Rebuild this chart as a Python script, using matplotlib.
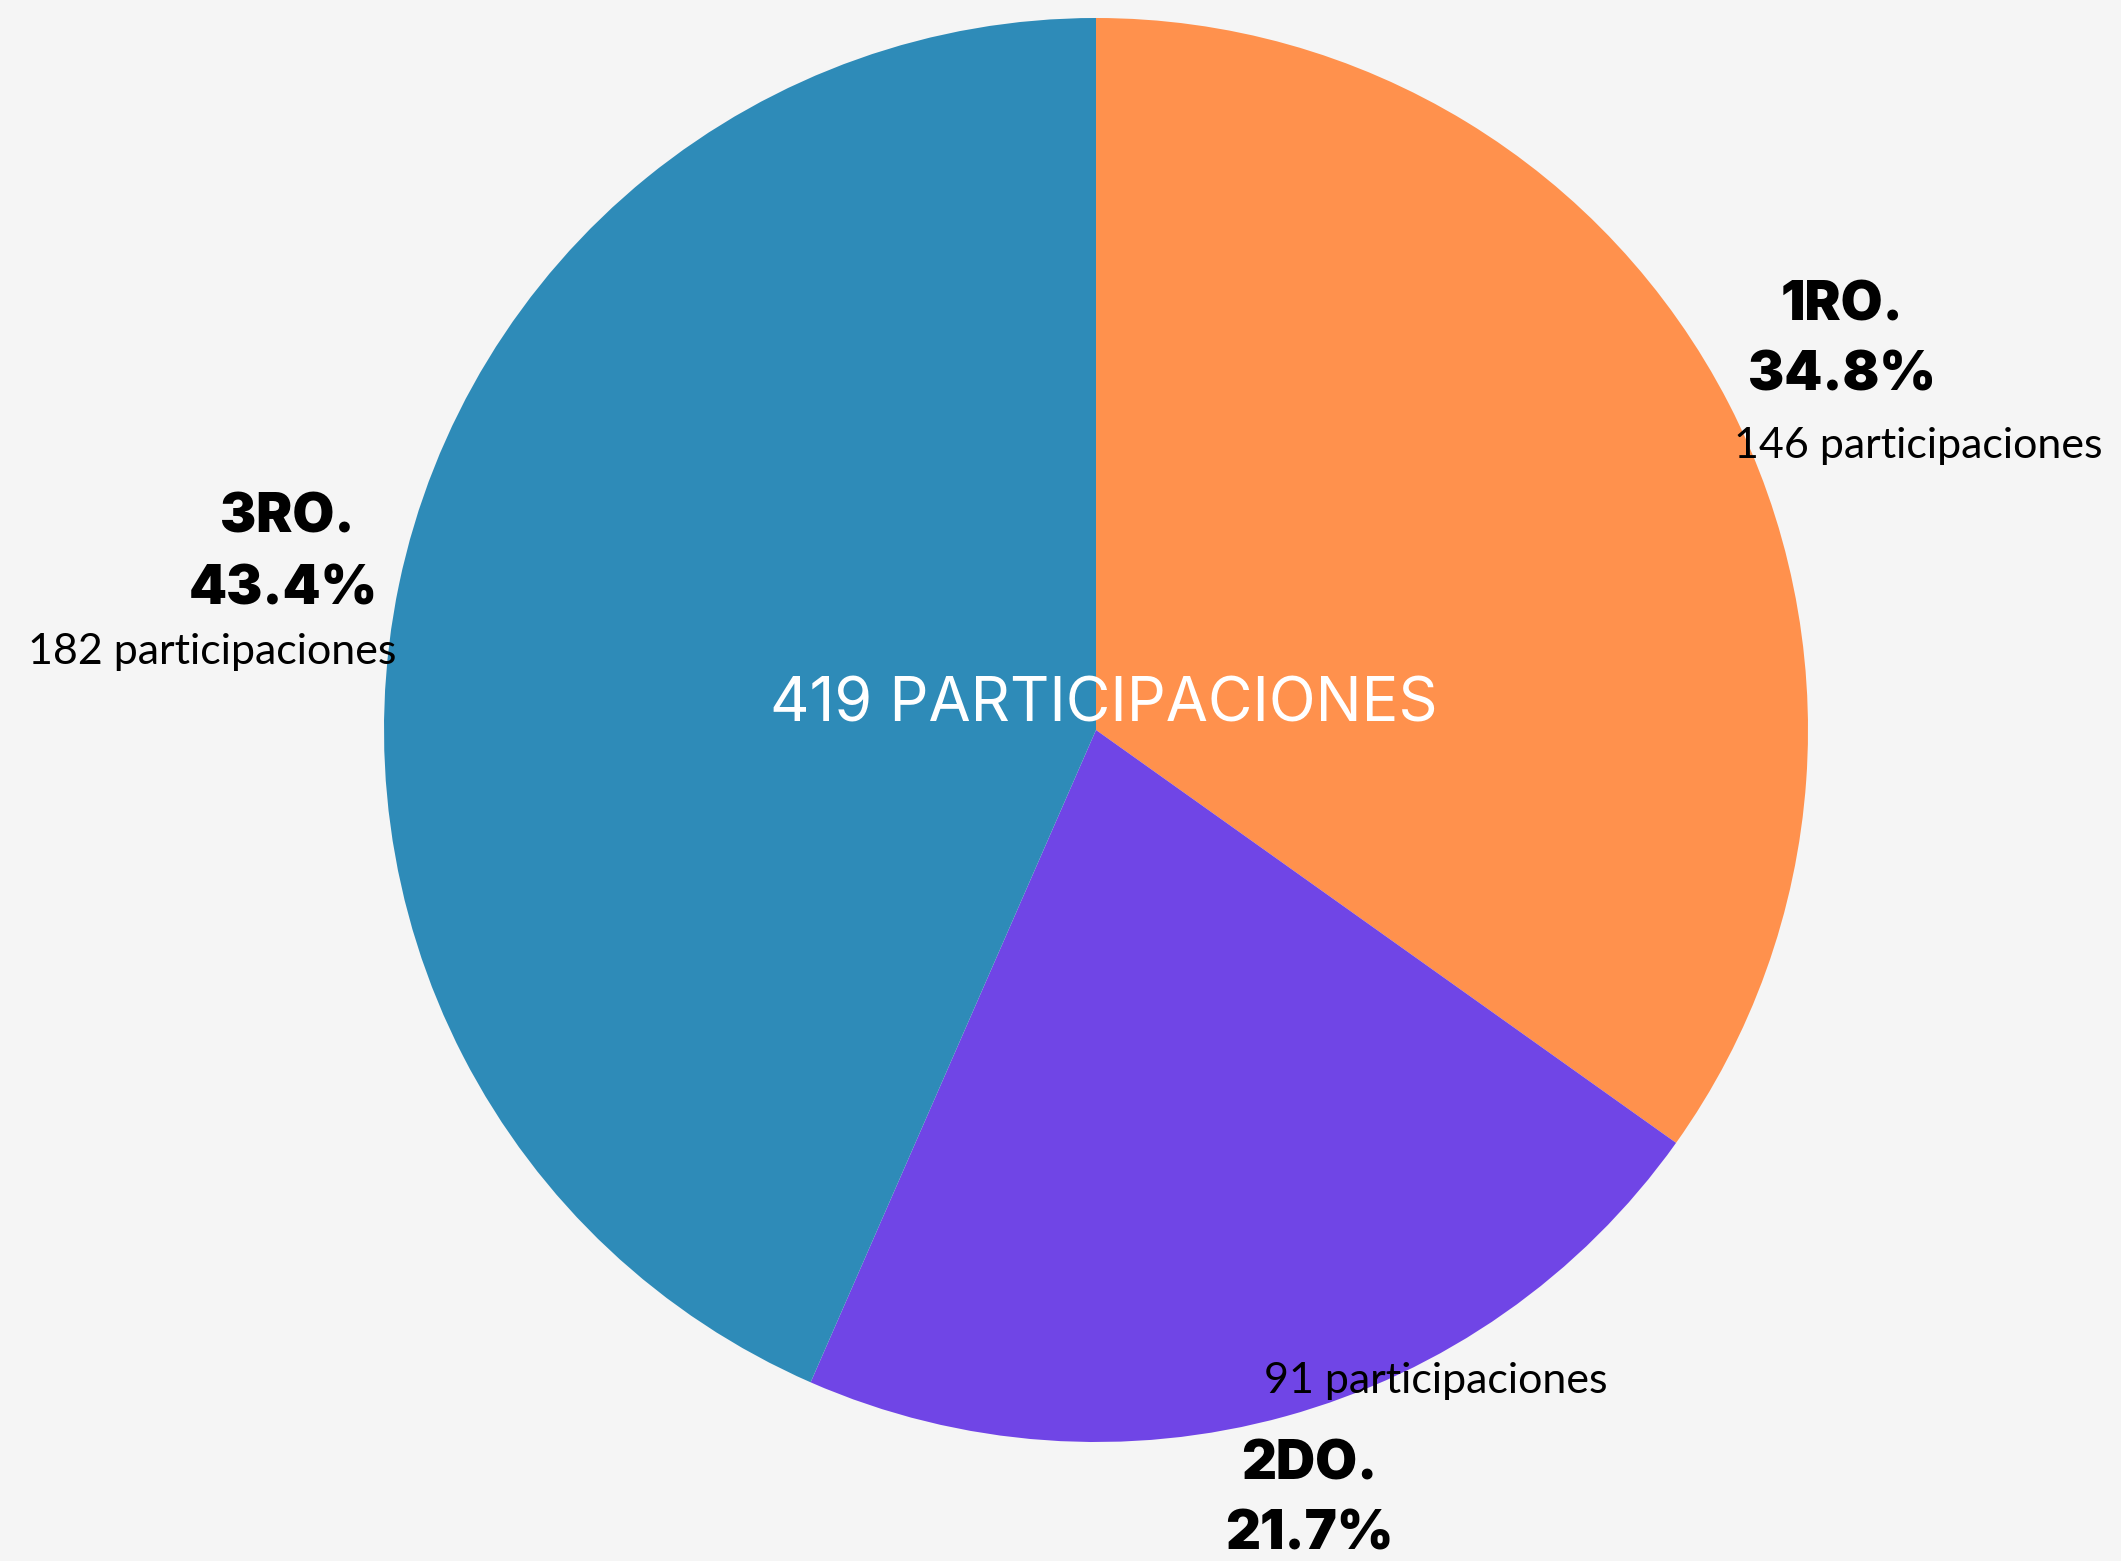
import matplotlib
matplotlib.use("Agg")
import matplotlib.pyplot as plt

# datos
grados = ["1RO.", "2DO.", "3RO."]
participaciones = [146, 91, 182]
colores = ["#FF914D", "#7045E6", "#2E8BB8"]

W, H = 2121, 1561
total = sum(participaciones)

fig = plt.figure(figsize=(W / 100, H / 100), dpi=100, facecolor="#f5f5f5")

# pie centrado en (1096, 730) px con radio ~712 px
cx, cy, r = 1096, 730, 712
ax = fig.add_axes([(cx - r) / W, (H - cy - r) / H, 2 * r / W, 2 * r / H])
ax.pie(participaciones, colors=colores, startangle=90, counterclock=False,
       radius=1, wedgeprops=dict(linewidth=0))
ax.set_xlim(-1, 1)
ax.set_ylim(-1, 1)
ax.axis("off")


def px(x, y):
    return x / W, 1 - y / H


# posiciones de las etiquetas (px): titulo, porcentaje, sub
pos = {
    "1RO.": [(1842, 306), (1842, 376), (1918, 446)],
    "2DO.": [(1309, 1465), (1309, 1535), (1436, 1381)],
    "3RO.": [(287, 518), (283, 590), (212, 652)],
}

for g, n in zip(grados, participaciones):
    p1, p2, p3 = pos[g]
    fig.text(*px(*p1), g, ha="center", va="center", fontsize=39,
             fontweight="black", family="Inter", color="black")
    fig.text(*px(*p2), f"{n / total * 100:.1f}%", ha="center", va="center",
             fontsize=39, fontweight="black", family="Inter", color="black")
    fig.text(*px(*p3), f"{n} participaciones", ha="center", va="center",
             fontsize=31, fontweight="normal", family="Lato", color="black")

fig.text(*px(1104, 705), f"{total} PARTICIPACIONES", ha="center", va="center",
         fontsize=44, family="Inter", color="white")

fig.savefig("out.png", dpi=100, facecolor=fig.get_facecolor())
